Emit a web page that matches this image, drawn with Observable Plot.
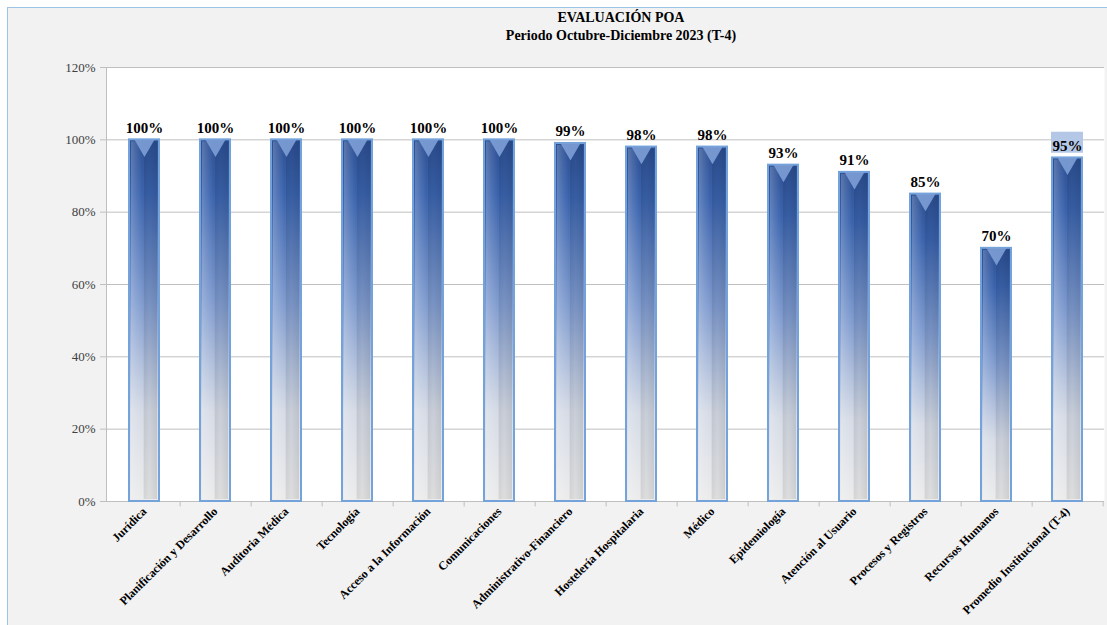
<!DOCTYPE html>
<html>
<head>
<meta charset="utf-8">
<script src="https://cdn.jsdelivr.net/npm/d3@7"></script>
<script src="https://cdn.jsdelivr.net/npm/@observablehq/plot@0.6"></script>
<style>
  html, body { margin: 0; padding: 0; background: #ffffff; }
  #wrap { position: relative; width: 1107px; height: 625px; overflow: hidden; background: #ffffff; }
  #panel { position: absolute; left: 7px; top: 7px; width: 1100px; height: 618px; background: #f2f2f2;
           border-left: 1px solid #9dc3e6; border-top: 1px solid #9dc3e6; box-sizing: border-box; }
  #title { position: absolute; left: 135px; top: 0; width: 972px; height: 50px; text-align: center;
           font-family: "Liberation Serif", "Times New Roman", Tinos, "DejaVu Serif", serif; font-weight: bold; font-size: 14px; color: #000; line-height: 18px; }
  #title .t1 { padding-top: 9px; }
  #chart { position: absolute; left: 0; top: 50px; }
  #chart svg text { font-family: "Liberation Serif", "Times New Roman", Tinos, "DejaVu Serif", serif; }
</style>
</head>
<body>
<div id="wrap">
  <div id="panel"></div>
  <div id="title"><div class="t1">EVALUACIÓN POA</div><div>Periodo Octubre-Diciembre 2023 (T-4)</div></div>
  <div id="chart"></div>
</div>
<script>
const categories = ["Jurídica","Planificación y Desarrollo","Auditoria Médica","Tecnología","Acceso a la Información","Comunicaciones","Administrativo-Financiero","Hostelería Hospitalaria","Médico","Epidemiología","Atención al Usuario","Procesos y Registros","Recursos Humanos","Promedio Institucional (T-4)"];
const values = [100,100,100,100,100,100,99,98,98,93,91,85,70,95];
const yTicks = [0,20,40,60,80,100,120];
const highlighted = ["Promedio Institucional (T-4)"];

const data = categories.map((c, i) => ({category: c, value: values[i]}));
const serif = "'Liberation Serif', 'Times New Roman', Tinos, 'DejaVu Serif', serif";

const chart = Plot.plot({
  width: 1107,
  height: 575,
  marginTop: 17,
  marginBottom: 124,
  marginLeft: 106,
  marginRight: 3,
  style: {background: "transparent", fontFamily: serif},
  x: {domain: categories, paddingInner: 0.58, paddingOuter: 0.29, label: null},
  y: {domain: [0, 120], label: null},
  marks: [
    Plot.frame({fill: "white", stroke: null}),
    Plot.gridY(yTicks, {stroke: "#bfbfbf", strokeOpacity: 1, strokeWidth: 1}),
    Plot.frame({anchor: "left", stroke: "#bfbfbf"}),
    Plot.axisY(yTicks, {tickFormat: d => d + "%", tickSize: 6, tickPadding: 5, stroke: "#bfbfbf",
      fontSize: 13, fill: "#404040", label: null}),
    Plot.ruleY([0], {stroke: "#bfbfbf"}),
    Plot.ruleX(categories, {x: d => d, dx: 35.65, y1: 0, y2: -1.5, stroke: "#bfbfbf"}),
    Plot.axisX({tickRotate: -45, tickSize: 0, tickPadding: 8, fontSize: 12, fontWeight: "bold",
      fill: "#000", label: null}),
    Plot.barY(data, {x: "category", y: "value", fill: "url(#barGrad)", stroke: "#74a3dc", strokeWidth: 2}),
    Plot.barY(data, {x: "category", y: "value", fill: "url(#bevelGrad)", insetTop: 2, insetBottom: 2, insetLeft: 2, insetRight: 2}),
    Plot.dot(data, {x: "category", y: "value", symbol: "triangle", r: 7.5, rotate: 180, dy: 5.5,
      fill: "#7d9fd6", fillOpacity: 0.9, stroke: null}),
    Plot.barY(data.filter(d => highlighted.includes(d.category)),
      {x: "category", y1: d => d.value + 1.3, y2: d => d.value + 7.1, fill: "#b4c7e7", insetLeft: -1, insetRight: -1}),
    Plot.text(data, {x: "category", y: "value", text: d => d.value + "%", lineAnchor: "bottom", dy: -7,
      fontSize: 15, fontWeight: "bold", fill: "#000"})
  ]
});

const svg = d3.select(chart);
const defs = svg.insert("defs", ":first-child");
const g1 = defs.append("linearGradient").attr("id", "barGrad").attr("x1", 0).attr("y1", 0).attr("x2", 0).attr("y2", 1);
[["0%", "#2c4f93"], ["15%", "#3a63ad"], ["45%", "#7f9bcf"], ["75%", "#d5dbe6"], ["100%", "#ececec"]]
  .forEach(([o, c]) => g1.append("stop").attr("offset", o).attr("stop-color", c));
const g2 = defs.append("linearGradient").attr("id", "bevelGrad").attr("x1", 0).attr("y1", 0).attr("x2", 1).attr("y2", 0);
[["0%", "#ffffff", 0.22], ["18%", "#ffffff", 0.12], ["45%", "#ffffff", 0.0], ["50%", "#000000", 0.10], ["70%", "#000000", 0.06], ["100%", "#000000", 0.12]]
  .forEach(([o, c, a]) => g2.append("stop").attr("offset", o).attr("stop-color", c).attr("stop-opacity", a));

document.getElementById("chart").appendChild(chart);
</script>
</body>
</html>
